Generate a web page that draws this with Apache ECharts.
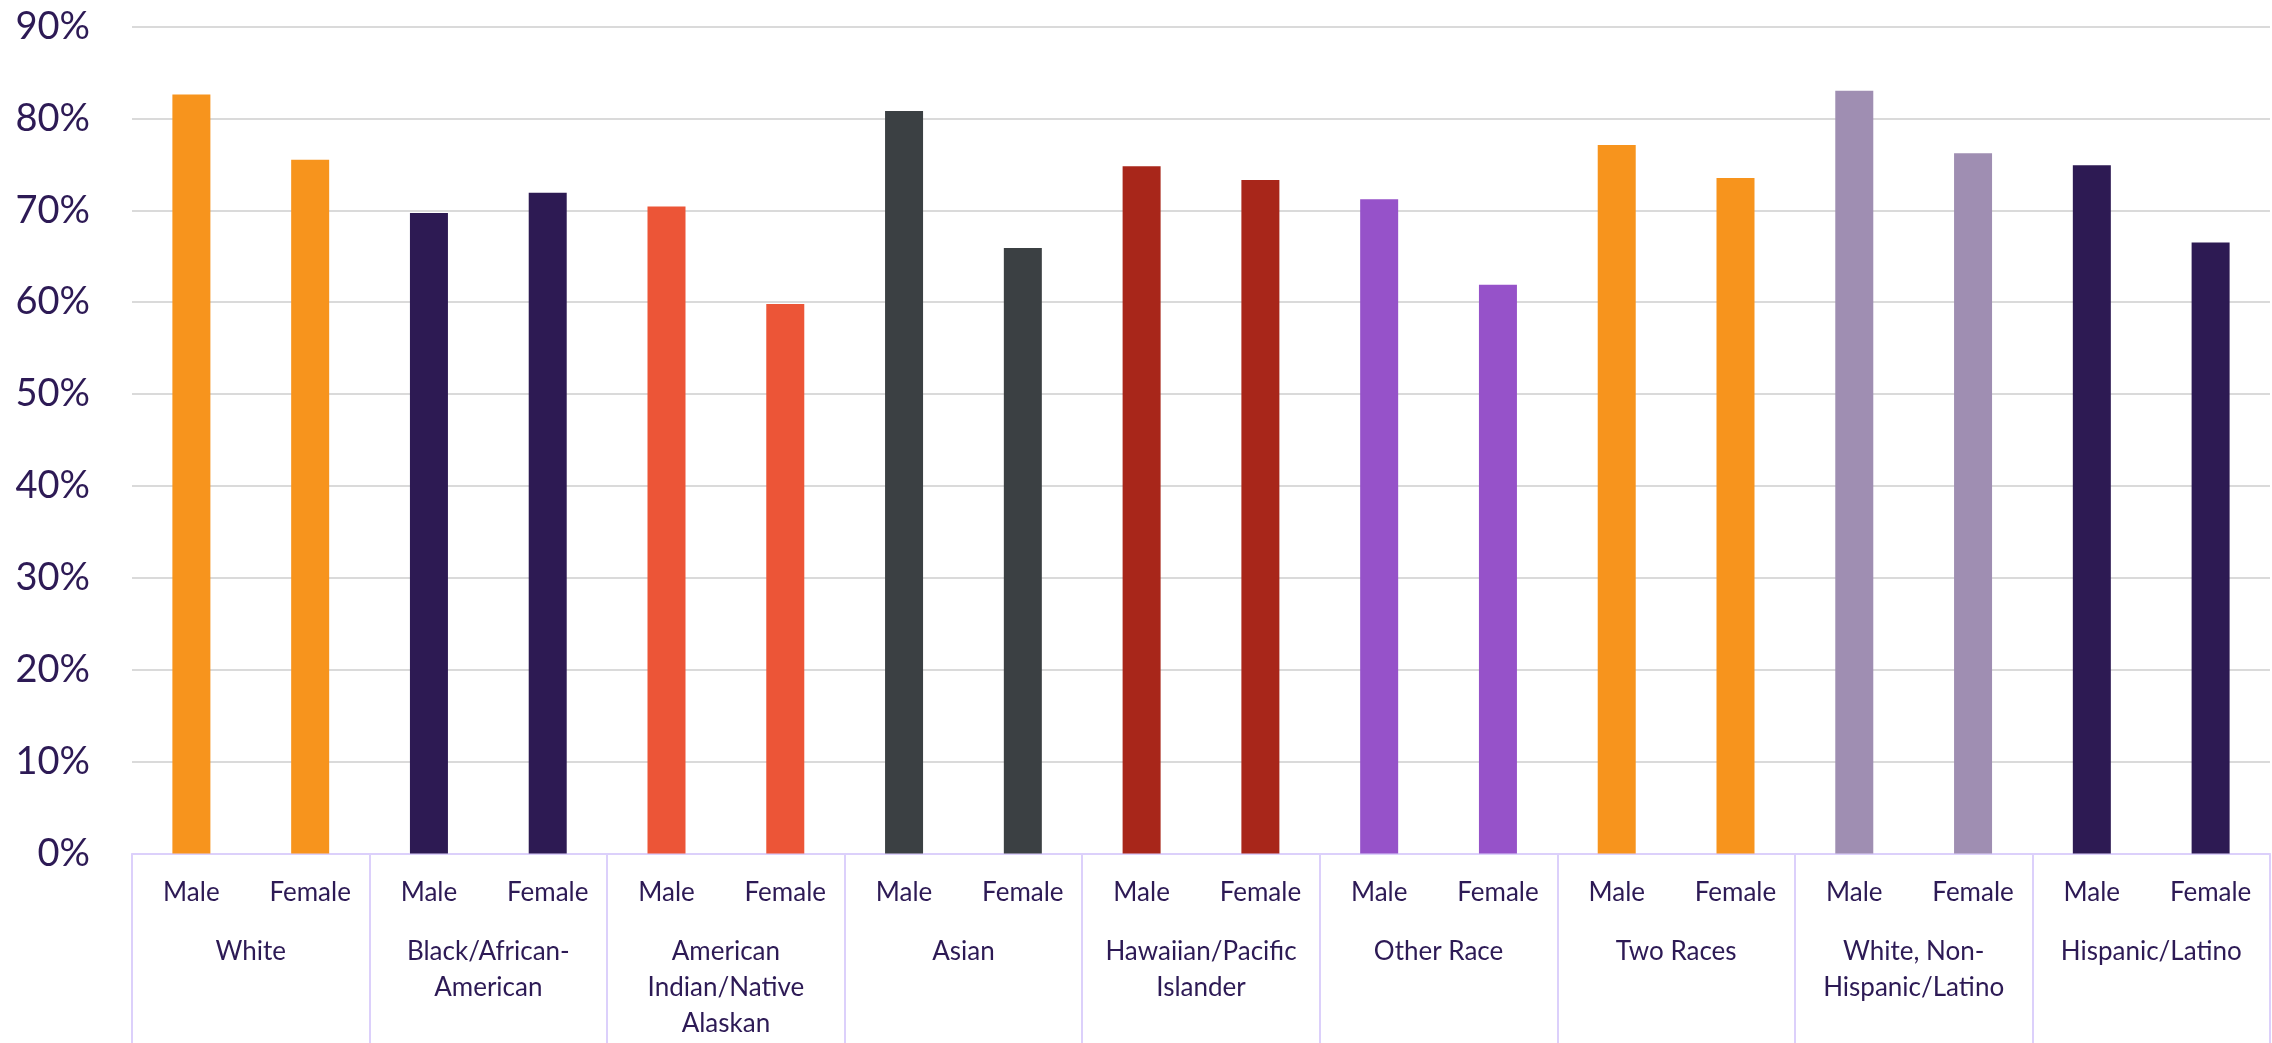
<!DOCTYPE html>
<html>
<head>
<meta charset="utf-8">
<title>Rate by Race/Ethnicity and Sex</title>
<script src="https://cdn.jsdelivr.net/npm/echarts@6/dist/echarts.min.js"></script>
<style>
  html, body { margin: 0; padding: 0; background: #ffffff; }
  #chart { width: 2272px; height: 1043px; }
</style>
</head>
<body>
<div id="chart"></div>
<script>
// Race / ethnicity groups (outer axis level)
const groups = [
  'White',
  'Black/African-\nAmerican',
  'American\nIndian/Native\nAlaskan',
  'Asian',
  'Hawaiian/Pacific\nIslander',
  'Other Race',
  'Two Races',
  'White, Non-\nHispanic/Latino',
  'Hispanic/Latino'
];

// Sex within each group (inner axis level)
const sexes = ['Male', 'Female'];

// Percent values, Male then Female, in group order
const maleValues   = [82.6, 69.7, 70.4, 80.8, 74.8, 71.2, 77.1, 83.0, 74.9];
const femaleValues = [75.5, 71.9, 59.8, 65.9, 73.3, 61.9, 73.5, 76.2, 66.5];

// Y axis ticks
const yTicks = [0, 10, 20, 30, 40, 50, 60, 70, 80, 90];

// One bar colour per group
const groupColors = ['#f7941d', '#2d1a53', '#ec5537', '#3b4043', '#a8261a',
                     '#9652c9', '#f7941d', '#9f8eb2', '#2d1a53'];

const textColor = '#2d1a55';
const frameColor = '#dcd0fb';
const fontFamily = 'Lato, "Open Sans", sans-serif';

// Flatten to one category per (group, sex) pair
const innerCats = [];
const barData = [];
groups.forEach((g, i) => {
  [maleValues[i], femaleValues[i]].forEach((v, j) => {
    innerCats.push(sexes[j]);
    barData.push({ value: v, itemStyle: { color: groupColors[i] } });
  });
});

const chart = echarts.init(document.getElementById('chart'), null, { renderer: 'canvas' });

chart.setOption({
  animation: false,
  backgroundColor: '#ffffff',
  grid: { left: 132, right: 2, top: 26.5, bottom: 189.5, containLabel: false },
  xAxis: [
    {
      type: 'category',
      data: innerCats,
      position: 'bottom',
      axisLine: { show: true, lineStyle: { color: frameColor, width: 2 } },
      axisTick: { show: false },
      axisLabel: {
        interval: 0,
        margin: 26,
        color: textColor,
        fontFamily: fontFamily,
        fontSize: 26,
        lineHeight: 27
      },
      splitLine: { show: false }
    },
    {
      type: 'category',
      data: groups,
      position: 'bottom',
      offset: 0,
      axisLine: { show: false },
      axisTick: {
        show: true,
        interval: 0,
        length: 192,
        lineStyle: { color: frameColor, width: 2 }
      },
      axisLabel: {
        interval: 0,
        margin: 80,
        color: textColor,
        fontFamily: fontFamily,
        fontSize: 26,
        lineHeight: 36
      },
      splitLine: { show: false }
    }
  ],
  yAxis: {
    type: 'value',
    min: yTicks[0],
    max: yTicks[yTicks.length - 1],
    interval: yTicks[1] - yTicks[0],
    axisLine: { show: false },
    axisTick: { show: false },
    axisLabel: {
      formatter: '{value}%',
      margin: 42,
      color: textColor,
      fontFamily: fontFamily,
      fontSize: 38
    },
    splitLine: { show: true, lineStyle: { color: '#dadada', width: 2 } }
  },
  series: [
    {
      type: 'bar',
      xAxisIndex: 0,
      yAxisIndex: 0,
      data: barData,
      barWidth: 38,
      z: 3
    }
  ]
});
</script>
</body>
</html>
